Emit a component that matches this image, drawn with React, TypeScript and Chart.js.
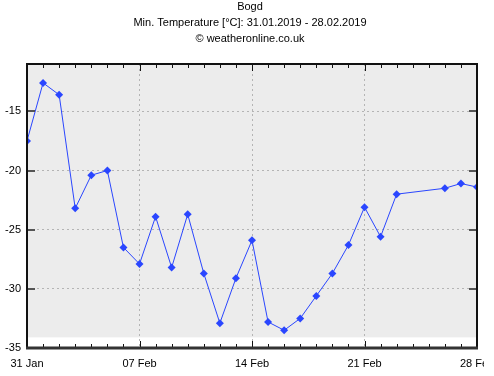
import React, { useEffect, useRef } from "react";
import { Chart, registerables } from "chart.js";

Chart.register(...registerables);

const titleLines = ["Bogd", "Min. Temperature [°C]: 31.01.2019 - 28.02.2019", "© weatheronline.co.uk"];
// day offsets from 31 Jan 2019
const days = [0, 1, 2, 3, 4, 5, 6, 7, 8, 9, 10, 11, 12, 13, 14, 15, 16, 17, 18, 19, 20, 21, 22, 23, 26, 27, 28];
const minTemps = [
  -17.5, -12.6, -13.6, -23.2, -20.4, -20.0, -26.5, -27.9, -23.9, -28.2, -23.7, -28.7, -32.9, -29.1,
  -25.9, -32.8, -33.5, -32.5, -30.6, -28.7, -26.3, -23.1, -25.6, -22.0, -21.5, -21.1, -21.4,
];
const xTickDays = [0, 7, 14, 21, 28];
const xTickLabels = ["31 Jan", "07 Feb", "14 Feb", "21 Feb", "28 Feb"];
const yTicks = [-35, -30, -25, -20, -15];
const yMin = -35;
const yMax = -11;
const shadeBottom = -34.1;

const FONT = '"Liberation Sans", Arial, sans-serif';

const framePlugin = {
  id: "frame",
  beforeDraw(chart: any) {
    const { ctx, chartArea: a, scales } = chart;
    const yb = scales.y.getPixelForValue(shadeBottom);
    ctx.save();
    ctx.fillStyle = "#ececec";
    ctx.fillRect(a.left, a.top, a.right - a.left, yb - a.top);
    ctx.restore();
  },
  afterDatasetsDraw(chart: any) {
    const { ctx, chartArea: a, scales } = chart;
    const x = scales.x;
    const y = scales.y;
    ctx.save();
    ctx.strokeStyle = "#111";
    ctx.lineWidth = 1;
    for (let d = 0; d <= 28; d++) {
      const px = Math.round(x.getPixelForValue(d)) + 0.5;
      const major = d % 7 === 0;
      const len = major ? 7 : 4;
      ctx.beginPath();
      ctx.moveTo(px, a.top);
      ctx.lineTo(px, a.top + len);
      ctx.moveTo(px, a.bottom);
      ctx.lineTo(px, a.bottom - len);
      ctx.stroke();
    }
    ctx.strokeStyle = "#555";
    ctx.lineWidth = 2;
    for (const v of yTicks) {
      const py = Math.round(y.getPixelForValue(v));
      ctx.beginPath();
      ctx.moveTo(a.left, py);
      ctx.lineTo(a.left + 8, py);
      ctx.moveTo(a.right, py);
      ctx.lineTo(a.right - 8, py);
      ctx.stroke();
    }
    ctx.strokeStyle = "#111";
    ctx.lineWidth = 2;
    ctx.strokeRect(a.left, a.top, a.right - a.left, a.bottom - a.top);
    ctx.strokeStyle = "#333";
    ctx.lineWidth = 3;
    ctx.beginPath();
    ctx.moveTo(a.left - 1, a.bottom);
    ctx.lineTo(a.right + 1, a.bottom);
    ctx.stroke();
    ctx.fillStyle = "#000";
    ctx.font = "11px " + FONT;
    ctx.textAlign = "center";
    ctx.textBaseline = "middle";
    titleLines.forEach((t, i) => ctx.fillText(t, 250, 7 + i * 16));
    ctx.restore();
  },
  afterDraw(chart: any) {
    // the original image clips the last date label at its right edge
    const { ctx, chartArea: a } = chart;
    ctx.save();
    ctx.fillStyle = "#fff";
    ctx.fillRect(484, a.bottom + 4, chart.width - 484, chart.height - a.bottom - 4);
    ctx.restore();
  },
};

export default function App() {
  const ref = useRef<HTMLCanvasElement>(null);
  useEffect(() => {
    const chart = new Chart(ref.current!, {
      type: "line",
      data: {
        datasets: [
          {
            data: days.map((d, i) => ({ x: d, y: minTemps[i] })),
            borderColor: "#2a46ff",
            backgroundColor: "#2a46ff",
            borderWidth: 1,
            pointStyle: "rectRot",
            pointRadius: 4,
            pointBorderWidth: 0,
            tension: 0,
            spanGaps: true,
          },
        ],
      },
      options: {
        responsive: false,
        animation: false,
        layout: { padding: { top: 64, right: 17, left: 0, bottom: 0 } },
        plugins: { legend: { display: false }, title: { display: false }, tooltip: { enabled: false } },
        scales: {
          x: {
            type: "linear",
            min: 0,
            max: 28,
            afterBuildTicks: (s: any) => {
              s.ticks = xTickDays.map((v) => ({ value: v }));
            },
            afterFit: (s: any) => {
              s.height = 28;
              s.paddingLeft = 0;
              s.paddingRight = 0;
            },
            ticks: {
              autoSkip: false,
              maxRotation: 0,
              padding: 9,
              color: "#000",
              font: { family: FONT, size: 11 },
              callback: (v: any) => xTickLabels[xTickDays.indexOf(v)],
            },
            grid: {
              drawTicks: false,
              color: (c: any) => (c.tick && (c.tick.value === 0 || c.tick.value === 28) ? "rgba(0,0,0,0)" : "#b4b4b4"),
              lineWidth: 1,
            },
            border: { display: false, dash: [2, 3] },
          },
          y: {
            type: "linear",
            min: yMin,
            max: yMax,
            afterBuildTicks: (s: any) => {
              s.ticks = yTicks.map((v) => ({ value: v }));
            },
            afterFit: (s: any) => {
              s.width = 27;
              s.paddingTop = 0;
              s.paddingBottom = 0;
            },
            ticks: {
              padding: 6,
              color: "#000",
              font: { family: FONT, size: 11 },
            },
            grid: {
              drawTicks: false,
              color: "#b4b4b4",
              lineWidth: 1,
            },
            border: { display: false, dash: [2, 3] },
          },
        },
      },
      plugins: [framePlugin],
    });
    return () => chart.destroy();
  }, []);
  return (
    <div style={{ position: "fixed", left: 0, top: 0, width: 494, height: 376, background: "#fff" }}>
      <canvas ref={ref} width={494} height={376} />
    </div>
  );
}
